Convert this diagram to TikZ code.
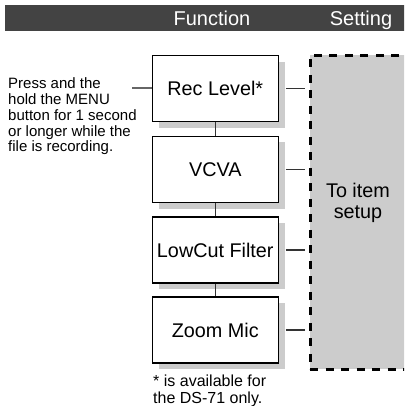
\documentclass[tikz,border=0pt]{standalone}
\usepackage{fontspec}
\setmainfont{Liberation Sans}
\usetikzlibrary{shadows}
\definecolor{hdr}{HTML}{434343}
\definecolor{shd}{HTML}{CCCCCC}
\definecolor{lnk}{HTML}{333333}
\begin{document}
\begin{tikzpicture}[x=1pt,y=-1pt,
  fbox/.style={draw=black, line width=1.2pt, fill=white,
    minimum width=126pt, minimum height=66pt, inner sep=0pt,
    font=\fontsize{19.8}{22}\selectfont,
    drop shadow={shadow xshift=6.5pt, shadow yshift=-6pt, fill=shd, opacity=1}},
  link/.style={draw=lnk, line width=1.1pt},
  hdrtext/.style={text=white, anchor=base, inner sep=0pt, font=\fontsize{20}{22}\selectfont},
  note/.style={anchor=north west, inner sep=0pt, align=left}]
\useasboundingbox (0,0) rectangle (404,406);
\clip (0,0) rectangle (404,406);
% header
\fill[hdr] (5,5) rectangle (410,31);
\node[hdrtext] (hf) at (212,26) {Function};
\node[hdrtext] (hs) at (361,26) {Setting};
% setting panel
\node[draw=black, fill=shd, dash pattern=on 8pt off 7.5pt, line width=3pt,
      minimum width=120pt, minimum height=314pt, inner sep=0pt] (panel) at (370,212.3) {};
\node[anchor=north, inner sep=0pt, align=center, font=\fontsize{19.8}{21}\selectfont] (setup) at (358,182.5) {To item\\setup};
% function boxes
\node[fbox] (b1) at (215.3,88.7) {Rec Level*};
\node[fbox] (b2) at (215.3,169.5) {VCVA};
\node[fbox] (b3) at (215.3,250) {LowCut Filter};
\node[fbox] (b4) at (215.3,330) {Zoom Mic};
% connectors
\draw[link] (b1.south) -- (b2.north);
\draw[link] (b2.south) -- (b3.north);
\draw[link] (b3.south) -- (b4.north);
\foreach \b in {b1,b2,b3,b4}
  \draw[link, shorten <=7pt, shorten >=4pt] (\b.east) -- (panel.west |- \b.east);
% left note
\coordinate (lc) at (132,88);
\draw[link, draw=gray!80!black] (lc) -- (b1.west |- lc);
\node[note, font=\fontsize{15}{15.9}\selectfont] (press) at (8,77.3)
  {Press and the\\hold the MENU\\button for 1 second\\or longer while the\\file is recording.};
\node[note, font=\fontsize{16}{17.5}\selectfont] (foot) at (153,374.3)
  {* is available for\\the DS-71 only.};
\end{tikzpicture}
\end{document}
